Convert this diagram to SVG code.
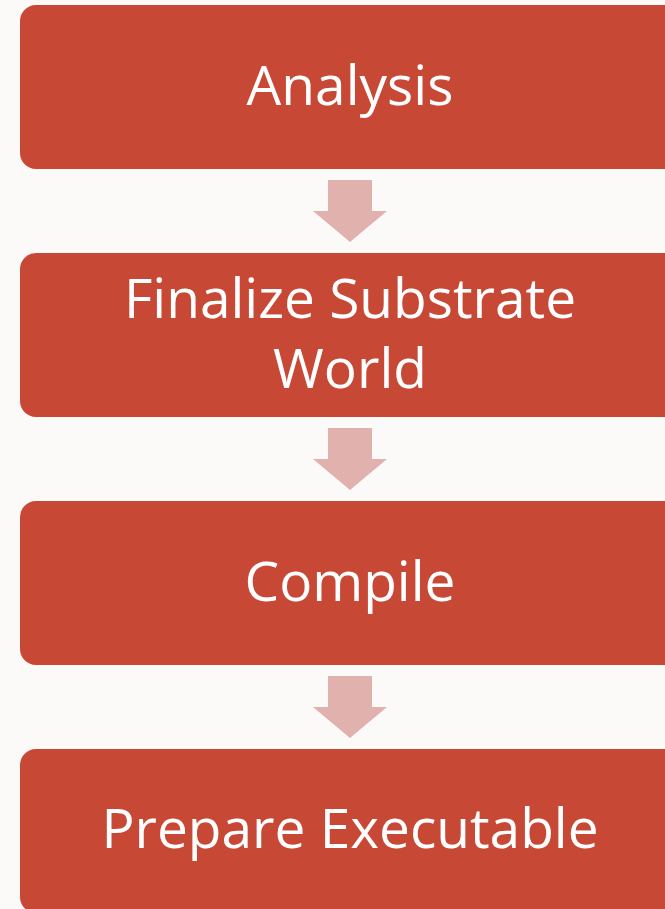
<svg xmlns="http://www.w3.org/2000/svg" width="665" height="909" viewBox="0 0 665 909">
<style>
.box{fill:#C84836;}
.lbl{fill:#FFFFFF;font-family:"Open Sans","Liberation Sans",sans-serif;font-size:55px;text-anchor:middle;}
.arr{fill:#E1B1AE;}
</style>
<defs>
<polygon id="arrow" points="-22,0 22,0 22,31 37,31 0,62 -37,31 -22,31"/>
</defs>
<rect width="665" height="909" fill="#FCFAF9"/>
<g id="connectors">
<use href="#arrow" class="arr" x="350" y="180"/>
<use href="#arrow" class="arr" x="350" y="428"/>
<use href="#arrow" class="arr" x="350" y="676"/>
</g>
<g id="analysis">
<rect class="box" x="20" y="5" width="660" height="164" rx="16"/>
<text class="lbl" x="350" y="105">Analysis</text>
</g>
<g id="finalize">
<rect class="box" x="20" y="253" width="660" height="164" rx="16"/>
<text class="lbl" x="350" y="318">Finalize Substrate</text>
<text class="lbl" x="350" y="388">World</text>
</g>
<g id="compile">
<rect class="box" x="20" y="501" width="660" height="164" rx="16"/>
<text class="lbl" x="350" y="601">Compile</text>
</g>
<g id="prepare">
<rect class="box" x="20" y="749" width="660" height="164" rx="16"/>
<text class="lbl" x="350" y="848">Prepare Executable</text>
</g>
</svg>
